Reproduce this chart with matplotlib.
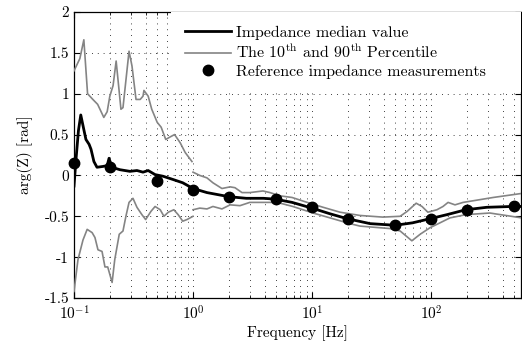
import matplotlib
matplotlib.use("Agg")
import matplotlib.pyplot as plt
import numpy as np

plt.rcParams['font.family'] = ['cmr10', 'DejaVu Serif']
plt.rcParams['mathtext.fontset'] = 'cm'
plt.rcParams['axes.unicode_minus'] = False
plt.rcParams['axes.formatter.use_mathtext'] = True

# ---- data ----
median_f = [0.1, 0.104, 0.109, 0.114, 0.121, 0.126, 0.134, 0.139, 0.147, 0.156, 0.175,
            0.19, 0.197, 0.208, 0.243, 0.295, 0.338, 0.38, 0.42, 0.48, 0.56, 0.68,
            0.82, 1.0, 1.31, 2.0, 2.8, 3.9, 4.9, 6.8, 10, 14.2, 19.8, 30.8, 50,
            70, 98, 136, 196, 294, 477, 580]
median_v = [-0.13, 0.2, 0.55, 0.74, 0.56, 0.44, 0.38, 0.32, 0.17, 0.10, 0.11,
            0.12, 0.21, 0.10, 0.07, 0.05, 0.06, 0.04, 0.06, 0.01, -0.01, -0.05,
            -0.09, -0.16, -0.21, -0.26, -0.28, -0.28, -0.29, -0.33, -0.40, -0.47, -0.53, -0.59, -0.61,
            -0.58, -0.53, -0.48, -0.42, -0.39, -0.38, -0.38]

p90_low_f = [0.1, 0.112, 0.121, 0.130, 0.144, 0.158, 0.178, 0.19, 0.2, 0.213, 0.226,
             0.248, 0.258, 0.29, 0.307, 0.332, 0.36, 0.38, 0.387, 0.42, 0.45, 0.50,
             0.54, 0.59, 0.64, 0.70, 0.78, 0.86, 0.98]
p90_low_v = [1.28, 1.43, 1.66, 1.0, 0.93, 0.87, 0.71, 0.78, 0.97, 1.1, 1.40,
             0.81, 0.83, 1.52, 1.34, 0.93, 0.93, 0.97, 1.04, 0.97, 0.81, 0.65,
             0.59, 0.44, 0.47, 0.5, 0.4, 0.28, 0.17]

p10_low_f = [0.1, 0.108, 0.119, 0.129, 0.142, 0.15, 0.159, 0.172, 0.182, 0.192, 0.209,
             0.22, 0.24, 0.258, 0.273, 0.29, 0.313, 0.338, 0.372, 0.40, 0.443, 0.48,
             0.53, 0.57, 0.62, 0.69, 0.75, 0.82, 0.89, 1.0]
p10_low_v = [-1.42, -1.03, -0.79, -0.66, -0.70, -0.76, -0.91, -0.93, -1.12, -1.12, -1.31,
             -1.03, -0.72, -0.68, -0.50, -0.33, -0.28, -0.39, -0.48, -0.54, -0.44, -0.38,
             -0.42, -0.50, -0.45, -0.42, -0.48, -0.56, -0.54, -0.50]

p90_high_f = [1.0, 1.14, 1.31, 1.47, 1.75, 2.05, 2.25, 2.58, 3.0, 3.87, 4.43, 5.4, 6.8,
              9.1, 12.4, 17.2, 25.3, 39.4, 55, 63, 75, 84, 94, 112, 126, 139, 159, 186,
              226, 332, 580]
p90_high_v = [0.04, 0.0, -0.03, -0.09, -0.16, -0.14, -0.15, -0.21, -0.21, -0.19, -0.21, -0.25, -0.27,
              -0.33, -0.39, -0.45, -0.49, -0.51, -0.50, -0.44, -0.34, -0.38, -0.45, -0.42, -0.38, -0.33, -0.36, -0.33,
              -0.31, -0.27, -0.22]

p10_high_f = [1.0, 1.14, 1.31, 1.47, 1.75, 2.05, 2.48, 3.0, 3.87, 5.1, 6.9, 10.2, 14.2,
              20.8, 25.3, 45, 55, 69, 81, 98, 119, 144, 196, 312, 580]
p10_high_v = [-0.42, -0.40, -0.41, -0.38, -0.41, -0.36, -0.37, -0.33, -0.33, -0.33, -0.38, -0.46, -0.52,
              -0.59, -0.62, -0.65, -0.68, -0.80, -0.72, -0.64, -0.58, -0.52, -0.48, -0.46, -0.52]

ref_f = [0.1, 0.2, 0.5, 1, 2, 5, 10, 20, 50, 100, 200, 500]
ref_v = [0.15, 0.10, -0.07, -0.18, -0.26, -0.29, -0.39, -0.53, -0.61, -0.53, -0.42, -0.38]

x_ticks = [0.1, 1, 10, 100]
x_tick_labels = ['$10^{-1}$', '$10^{0}$', '$10^{1}$', '$10^{2}$']
y_ticks = [-1.5, -1, -0.5, 0, 0.5, 1, 1.5, 2]
y_tick_labels = ['-1.5', '-1', '-0.5', '0', '0.5', '1', '1.5', '2']

# ---- figure ----
fig = plt.figure(figsize=(5.22, 3.45), dpi=100)
ax = fig.add_axes([74/522, 1-298/345, (521-74)/522, (298-12)/345])

gray = '#848484'
ax.plot(median_f, median_v, color='k', lw=2.0, label='Impedance median value', zorder=4)
ax.plot(p90_low_f, p90_low_v, color=gray, lw=1.2,
        label='The 10$^{\\mathrm{th}}$ and 90$^{\\mathrm{th}}$ Percentile', zorder=3)
ax.plot(p10_low_f, p10_low_v, color=gray, lw=1.2, zorder=3)
ax.plot(p90_high_f, p90_high_v, color=gray, lw=1.2, zorder=3)
ax.plot(p10_high_f, p10_high_v, color=gray, lw=1.2, zorder=3)
ax.plot(ref_f, ref_v, 'o', color='k', ms=7.5, clip_on=False,
        label='Reference impedance measurements', zorder=5)

ax.set_xscale('log')
ax.set_xlim(0.1, 570)
ax.set_ylim(-1.5, 2)
ax.set_xticks(x_ticks)
ax.set_xticklabels(x_tick_labels)
ax.set_yticks(y_ticks)
ax.set_yticklabels(y_tick_labels)

ax.tick_params(which='both', direction='in', top=True, right=True, labelsize=11)
ax.tick_params(which='major', length=4.5, width=0.8)
ax.tick_params(which='minor', length=2.5, width=0.6)
ax.tick_params(axis='x', which='major', pad=5)

grid_kw = dict(color='k', lw=0.6, linestyle=(0, (1, 6)))
ax.grid(True, which='major', axis='both', **grid_kw)
ax.grid(True, which='minor', axis='x', **grid_kw)
ax.set_axisbelow(True)

for s in ax.spines.values():
    s.set_linewidth(0.9)

ax.set_xlabel('Frequency [Hz]', fontsize=11, labelpad=2)
ax.set_ylabel('arg(Z) [rad]', fontsize=11, labelpad=8)

leg = ax.legend(loc='upper left', bbox_to_anchor=(0.217, 0.0, 0.783, 1.0), mode='expand',
                borderaxespad=0.0, frameon=True, fancybox=False, framealpha=1.0,
                facecolor='white', edgecolor='none', fontsize=11.5,
                handlelength=2.9, handletextpad=0.3, labelspacing=0.22, borderpad=0.85)
leg.set_zorder(6)

fig.savefig('out.png', dpi=100)
